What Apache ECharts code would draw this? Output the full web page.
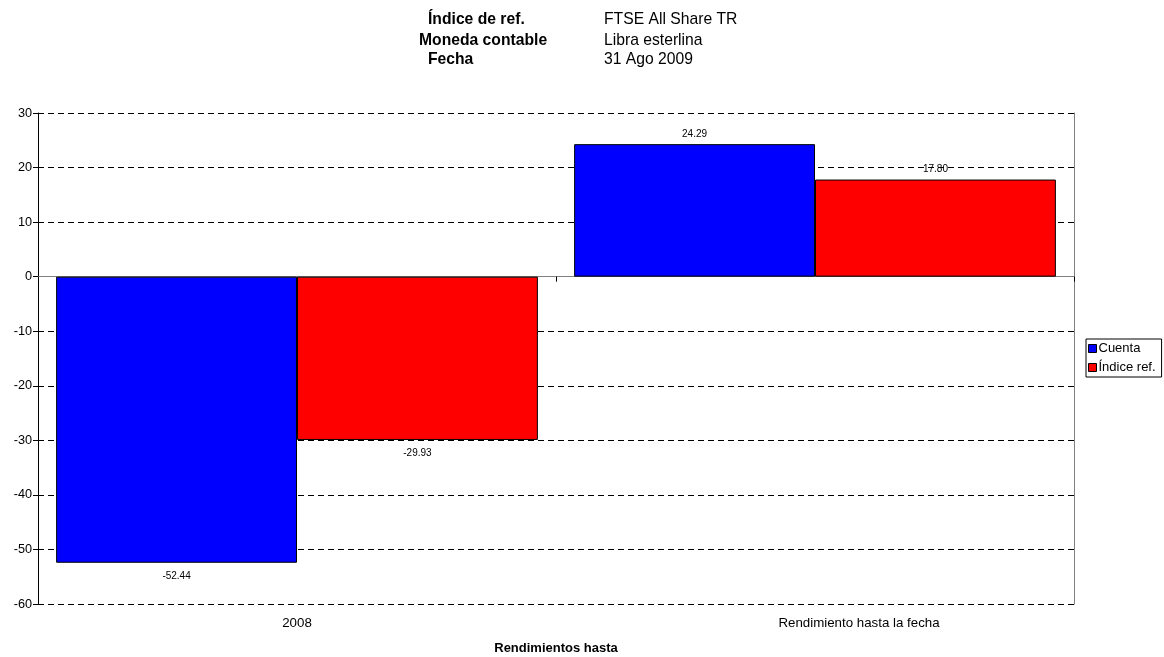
<!DOCTYPE html>
<html>
<head>
<meta charset="utf-8">
<script src="https://cdn.jsdelivr.net/npm/echarts@6/dist/echarts.min.js"></script>
<style>
html,body{margin:0;padding:0;background:#fff;}
#chart{width:1164px;height:657px;}
</style>
</head>
<body>
<div id="chart"></div>
<script>
var categories = ['2008', 'Rendimiento hasta la fecha'];
var cuenta = [-52.44, 24.29];
var indiceRef = [-29.93, 17.80];
var seriesNames = ['Cuenta', 'Índice ref.'];
var headerLabels = ['Índice de ref.', 'Moneda contable', 'Fecha'];
var headerValues = ['FTSE All Share TR', 'Libra esterlina', '31 Ago 2009'];
var axisTitle = 'Rendimientos hasta';

var FONT = '"Liberation Sans", Arial, sans-serif';

function toData(arr) {
  return arr.map(function (v) {
    return { value: v, label: v < 0 ? { position: 'bottom', distance: 8 } : { position: 'top', distance: 5 } };
  });
}

var headerX = [428, 419, 428];
var headerY = [20, 40.5, 60];
var graphics = [];
headerLabels.forEach(function (t, i) {
  graphics.push({ type: 'text', x: headerX[i], y: headerY[i],
    style: { text: t, font: 'bold 15.7px ' + FONT, fill: '#000', verticalAlign: 'middle' } });
});
headerValues.forEach(function (t, i) {
  graphics.push({ type: 'text', x: 604, y: headerY[i],
    style: { text: t, font: '15.7px ' + FONT, fill: '#000', verticalAlign: 'middle' } });
});

var axisCats = categories.map(function (c, i) {
  return i === 1 ? { value: c, textStyle: { padding: [0, 0, 0, 88] } } : c;
});

var chart = echarts.init(document.getElementById('chart'));
chart.setOption({
  animation: false,
  backgroundColor: '#fff',
  textStyle: { fontFamily: FONT },
  graphic: graphics,
  grid: { left: 38, right: 90, top: 113, bottom: 53, containLabel: false, outerBoundsMode: 'none' },
  legend: {
    data: seriesNames,
    orient: 'vertical',
    left: 1086, top: 339,
    padding: [3, 6, 3, 2],
    itemWidth: 8, itemHeight: 8, itemGap: 6,
    icon: 'rect',
    borderColor: '#000', borderWidth: 1,
    itemStyle: { borderColor: '#000', borderWidth: 1 },
    textStyle: { fontSize: 13, color: '#000', fontFamily: FONT, padding: [0, 0, 0, -3] }
  },
  xAxis: [
    {
      type: 'category', data: axisCats, position: 'bottom',
      axisLine: { show: false, onZero: false },
      axisTick: { show: false },
      axisLabel: { fontSize: 13.3, color: '#000', margin: 13, fontFamily: FONT },
      name: axisTitle, nameLocation: 'middle', nameGap: 38,
      nameTextStyle: { fontSize: 13, fontWeight: 'bold', color: '#000', fontFamily: FONT },
      splitLine: { show: false }
    },
    {
      type: 'category', data: categories, position: 'top',
      axisLine: { show: true, onZero: true, lineStyle: { color: '#808080', width: 1 } },
      axisTick: { show: true, inside: true, length: 5, lineStyle: { color: '#000' } },
      axisLabel: { show: false },
      splitLine: { show: false }
    }
  ],
  yAxis: [
    {
      type: 'value', min: -60, max: 30, interval: 10,
      axisLine: { show: true, lineStyle: { color: '#000', width: 1 } },
      axisTick: { show: true, length: 5, lineStyle: { color: '#000' } },
      axisLabel: { fontSize: 12.7, color: '#000', margin: 6, fontFamily: FONT },
      splitLine: { show: true, lineStyle: { color: '#000', type: [6, 4], width: 1 } }
    },
    {
      type: 'value', min: -60, max: 30, interval: 10, position: 'right',
      axisLine: { show: true, lineStyle: { color: '#808080', width: 1 } },
      axisTick: { show: false },
      axisLabel: { show: false },
      splitLine: { show: false }
    }
  ],
  series: [
    {
      name: seriesNames[0], type: 'bar', xAxisIndex: 0, yAxisIndex: 0,
      data: toData(cuenta),
      barGap: '0%', barCategoryGap: '7%',
      itemStyle: { color: '#0000FF', borderColor: '#000', borderWidth: 1 },
      label: { show: true, fontSize: 10, color: '#000', fontFamily: FONT,
        formatter: function (p) { return p.value.toFixed(2); } }
    },
    {
      name: seriesNames[1], type: 'bar', xAxisIndex: 0, yAxisIndex: 0,
      data: toData(indiceRef),
      barGap: '0%', barCategoryGap: '7%',
      itemStyle: { color: '#FF0000', borderColor: '#000', borderWidth: 1 },
      label: { show: true, fontSize: 10, color: '#000', fontFamily: FONT,
        formatter: function (p) { return p.value.toFixed(2); } }
    }
  ]
});
</script>
</body>
</html>
